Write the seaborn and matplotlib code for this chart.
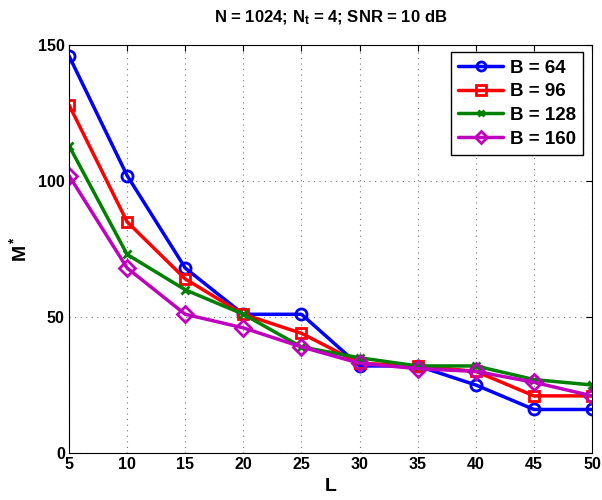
import matplotlib
matplotlib.use("Agg")
import matplotlib.pyplot as plt
import seaborn as sns
import pandas as pd

L_values = [5, 10, 15, 20, 25, 30, 35, 40, 45, 50]
b64 = [146, 102, 68, 51, 51, 32, 32, 25, 16, 16]
b96 = [128, 85, 64, 51, 44, 33, 32, 30, 21, 21]
b128 = [113, 73, 60, 51, 39, 35, 32, 32, 27, 25]
b160 = [102, 68, 51, 46, 39, 33, 31, 30, 26, 21]
series_labels = ["B = 64", "B = 96", "B = 128", "B = 160"]
y_ticks = [0, 50, 100, 150]

sns.set_style("white")
plt.rcParams['font.family'] = ['Liberation Sans', 'DejaVu Sans']
plt.rcParams['font.weight'] = 'bold'
plt.rcParams['text.color'] = 'black'
plt.rcParams['axes.labelcolor'] = 'black'
plt.rcParams['xtick.color'] = 'black'
plt.rcParams['ytick.color'] = 'black'
plt.rcParams['mathtext.fontset'] = 'custom'
plt.rcParams['mathtext.rm'] = 'Liberation Sans:bold'
plt.rcParams['mathtext.it'] = 'Liberation Sans:bold'
plt.rcParams['mathtext.bf'] = 'Liberation Sans:bold'

rows = []
for lab, vals in zip(series_labels, [b64, b96, b128, b160]):
    for x, y in zip(L_values, vals):
        rows.append({"L": x, "M": y, "B": lab})
df = pd.DataFrame(rows)

fig = plt.figure(figsize=(6.02, 5.0), dpi=100)
ax = fig.add_axes([0.1146, 0.094, 0.869, 0.816])

colors = ["#0000ff", "#ff0000", "#008000", "#bf00bf"]
markers = ["o", "s", "D", "D"]
sizes = [8, 7.5, 7, 8]
sns.lineplot(data=df, x="L", y="M", hue="B", style="B", hue_order=series_labels,
             style_order=series_labels, palette=colors, markers=markers, dashes=False,
             linewidth=2.5, markersize=8, ax=ax)

def style_line(line, c, i, legend=False):
    line.set_markeredgecolor(c)
    line.set_markerfacecolor("none")
    line.set_markeredgewidth(2)
    if i == 2:
        line.set_marker("x")
        line.set_markersize(6 if not legend else 5)
    else:
        line.set_markersize(sizes[i] if not legend else 6.5)

for i, (line, c) in enumerate(zip(ax.get_lines()[:4], colors)):
    style_line(line, c, i)

ax.set_xlim(5, 50)
ax.set_ylim(0, 150)
ax.set_xticks(L_values)
ax.set_yticks(y_ticks)
ax.grid(True, linestyle=(0, (1, 4)), color="#777777", linewidth=0.8)
ax.tick_params(direction="in", length=4, labelsize=11.5, width=0.8, pad=3)
for lbl in ax.get_xticklabels() + ax.get_yticklabels():
    lbl.set_fontweight("bold")
for s in ax.spines.values():
    s.set_color("black")
    s.set_linewidth(0.8)
ax.tick_params(top=True, right=True)

ax.set_xlabel("L", fontsize=14, fontweight="bold", labelpad=4)
ax.set_ylabel("M$^*$", fontsize=14, fontweight="bold", labelpad=6)
ax.set_title("N = 1024; N$_t$ = 4; SNR = 10 dB", fontsize=12, fontweight="bold", pad=16,
             color="black")

handles, labels = ax.get_legend_handles_labels()
for i, (h, c) in enumerate(zip(handles, colors)):
    style_line(h, c, i, legend=True)
leg = ax.legend(handles, labels, loc="upper right", fontsize=13.5, frameon=True,
                fancybox=False, edgecolor="black", framealpha=1,
                handlelength=2.4, handletextpad=0.35, borderpad=0.4, labelspacing=0.35,
                borderaxespad=0, bbox_to_anchor=(0.983, 0.983))
leg.get_frame().set_linewidth(1.0)
for t in leg.get_texts():
    t.set_fontweight("bold")
    t.set_color("black")

fig.savefig("out.png", dpi=100)
